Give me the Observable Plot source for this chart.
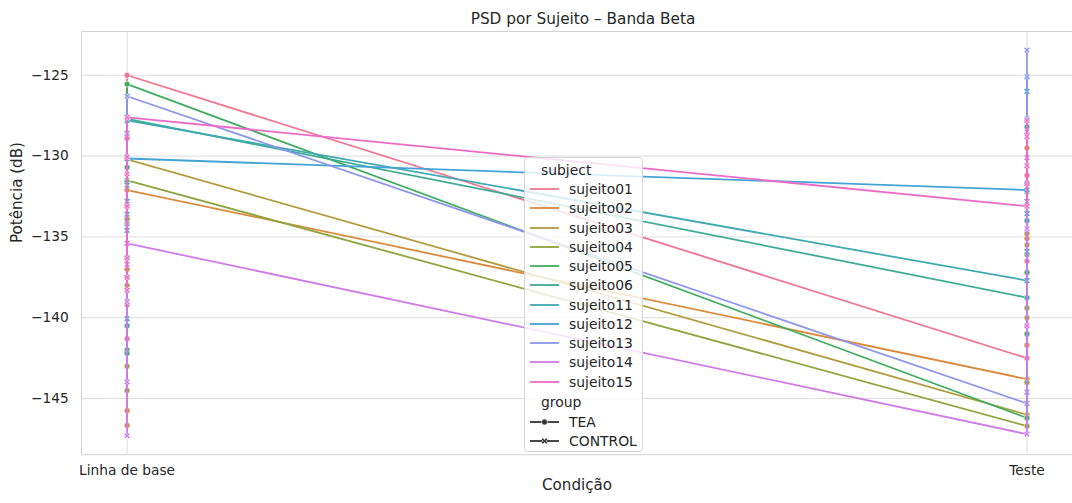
<!DOCTYPE html>
<html><head><meta charset="utf-8">
<script src="https://cdn.jsdelivr.net/npm/d3@7"></script>
<script src="https://cdn.jsdelivr.net/npm/@observablehq/plot@0.6"></script>
<style>
body{margin:0;background:#fff;font-family:"DejaVu Sans",sans-serif;color:#262626;}
#wrap{position:relative;width:1072px;height:503px;overflow:hidden;background:#fff;}
#title{position:absolute;left:583px;top:9px;transform:translateX(-50%);font-size:15.3px;white-space:nowrap;line-height:20px;z-index:2;}
#chart{position:absolute;left:0;top:24px;}
#legend{position:absolute;left:524px;top:157px;width:119px;height:295px;box-sizing:border-box;border:1px solid #d6d6d6;border-radius:4px;background:rgba(255,255,255,0.8);font-size:13.9px;}
.lg{position:absolute;line-height:18px;white-space:nowrap;transform:translateY(-50%);}
.sw{position:absolute;transform:translateY(-50%);}
</style></head><body>
<div id="wrap"><div id="chart"></div><div id="title">PSD por Sujeito – Banda Beta</div><div id="legend"></div></div>
<script>
const conditions = ["Linha de base", "Teste"];
const subjects = ["sujeito01","sujeito02","sujeito03","sujeito04","sujeito05","sujeito06","sujeito11","sujeito12","sujeito13","sujeito14","sujeito15"];
const groups = ["TEA","TEA","TEA","TEA","TEA","TEA","CONTROL","CONTROL","CONTROL","CONTROL","CONTROL"];
const palette = ["#f07591","#db8a3c","#b29b3c","#8ca53c","#3fac5e","#3eab95","#3fa9b4","#42a4d4","#8d95ec","#cf7ae8","#ee6ac6"];
const groupNames = ["TEA","CONTROL"];
const yTicks = [-145,-140,-135,-130,-125];
// Potência (dB) por sujeito, Linha de base
const baselineValues = [
  [-125.0, -128.9, -133.1, -139.2, -141.3],
  [-132.1, -137.0, -145.75, -146.66],
  [-130.2, -134.2, -138.0, -143.0],
  [-131.5, -133.9, -137.5, -144.5],
  [-125.55, -130.7, -136.3, -142.0],
  [-127.7, -131.6, -140.5, -142.2],
  [-127.8, -131.8, -133.6, -138.3],
  [-130.15, -132.8, -134.6, -140.05],
  [-126.3, -128.6, -134.2, -143.97],
  [-135.4, -136.7, -139.0, -143.97, -147.3],
  [-127.6, -130.05, -131.1, -133.1, -136.3, -137.5, -138.3]
];
// Potência (dB) por sujeito, Teste
const testeValues = [
  [-142.5, -140.5, -136.5, -131.2],
  [-143.8, -141.7, -135.1, -129.5],
  [-146.0, -140.0, -135.5, -134.8],
  [-146.7, -144.0, -139.4, -136.1],
  [-146.2, -141.0, -137.2, -132.2],
  [-138.76, -134.0, -131.7, -128.2],
  [-137.7, -135.9, -133.55, -130.6],
  [-132.1, -128.8, -126.0, -125.1],
  [-145.3, -144.6, -132.8, -127.7, -125.1, -123.45],
  [-147.2, -140.5, -134.5, -130.1, -128.5],
  [-133.1, -131.7, -130.6, -128.8, -127.8]
];

const rows = [];
subjects.forEach((s, i) => {
  const b = baselineValues[i].map(v => ({subject: s, group: groups[i], condition: conditions[0], value: v}));
  const t = testeValues[i].map(v => ({subject: s, group: groups[i], condition: conditions[1], value: v}));
  b.sort((a, c) => a.value - c.value);
  t.sort((a, c) => a.value - c.value);
  rows.push(...b, ...t);
});

const xSymbol = {
  draw(ctx, size) {
    const a = Math.sqrt(size / Math.PI) * 1.05;
    const d = a * 0.42;
    ctx.moveTo(-a, -a + d); ctx.lineTo(-a + d, -a); ctx.lineTo(0, -d);
    ctx.lineTo(a - d, -a); ctx.lineTo(a, -a + d); ctx.lineTo(d, 0);
    ctx.lineTo(a, a - d); ctx.lineTo(a - d, a); ctx.lineTo(0, d);
    ctx.lineTo(-a + d, a); ctx.lineTo(-a, a - d); ctx.lineTo(-d, 0);
    ctx.closePath();
  }
};

const chart = Plot.plot({
  width: 1084,
  height: 479,
  marginLeft: 82,
  marginRight: 0,
  marginTop: 7,
  marginBottom: 44,
  style: {fontFamily: "DejaVu Sans", fontSize: "13.9px", color: "#262626", background: "transparent", overflow: "visible"},
  x: {type: "point", domain: conditions, range: [128, 1038], padding: 0},
  y: {domain: [-148.47, -122.29]},
  color: {domain: subjects, range: palette},
  symbol: {domain: groupNames, range: [d3.symbolCircle, xSymbol]},
  marks: [
    Plot.gridX(conditions, {stroke: "#dcdcdc", strokeOpacity: 1, strokeWidth: 1}),
    Plot.gridY(yTicks, {stroke: "#dcdcdc", strokeOpacity: 1, strokeWidth: 1}),
    Plot.frame({stroke: "#d0d0d0", strokeWidth: 1}),
    Plot.axisY(yTicks, {tickSize: 0, tickPadding: 13, fontSize: 13.9, label: null}),
    Plot.axisX(conditions, {tickSize: 0, tickPadding: 11, fontSize: 13.9, label: null}),
    ...subjects.flatMap(s => {
      const sub = rows.filter(d => d.subject === s);
      return [
        Plot.line(sub, {x: "condition", y: "value", stroke: "subject", strokeWidth: 1.8, curve: "linear"}),
        Plot.dot(sub, {x: "condition", y: "value", fill: "subject", symbol: "group", r: 3, stroke: "white", strokeWidth: 0.6})
      ];
    }),
    Plot.text(["Condição"], {text: d => d, frameAnchor: "bottom", dy: 36, fontSize: 15.3}),
    Plot.text(["Potência (dB)"], {text: d => d, frameAnchor: "left", dx: -65, rotate: -90, fontSize: 15.3})
  ]
});
document.getElementById("chart").appendChild(chart);

// Legend
const legend = document.getElementById("legend");
function addText(txt, left, y) {
  const el = document.createElement("div");
  el.className = "lg"; el.textContent = txt;
  el.style.left = left + "px"; el.style.top = y + "px";
  legend.appendChild(el);
}
function addSwatch(color, y, marker) {
  const ns = "http://www.w3.org/2000/svg";
  const svg = document.createElementNS(ns, "svg");
  svg.setAttribute("width", 32); svg.setAttribute("height", 10);
  svg.setAttribute("class", "sw");
  svg.style.left = "3px"; svg.style.top = y + "px";
  const ln = document.createElementNS(ns, "line");
  ln.setAttribute("x1", 2); ln.setAttribute("x2", 31); ln.setAttribute("y1", 5); ln.setAttribute("y2", 5);
  ln.setAttribute("stroke", color); ln.setAttribute("stroke-width", 1.8);
  svg.appendChild(ln);
  if (marker) {
    const p = document.createElementNS(ns, "path");
    const path = d3.path();
    const sym = marker === "TEA" ? d3.symbolCircle : xSymbol;
    sym.draw(path, Math.PI * 9);
    p.setAttribute("d", path.toString());
    p.setAttribute("transform", "translate(16.5,5)");
    p.setAttribute("fill", color); p.setAttribute("stroke", "white"); p.setAttribute("stroke-width", 0.6);
    svg.appendChild(p);
  }
  legend.appendChild(svg);
}
addText("subject", 16, 12);
subjects.forEach((s, i) => {
  const y = 31 + 19.25 * i;
  addSwatch(palette[i], y, null);
  addText(s, 44, y);
});
addText("group", 16, 244);
groupNames.forEach((g, i) => {
  const y = 264 + 19.25 * i;
  addSwatch("#333333", y, g);
  addText(g, 44, y);
});
</script>
</body></html>
